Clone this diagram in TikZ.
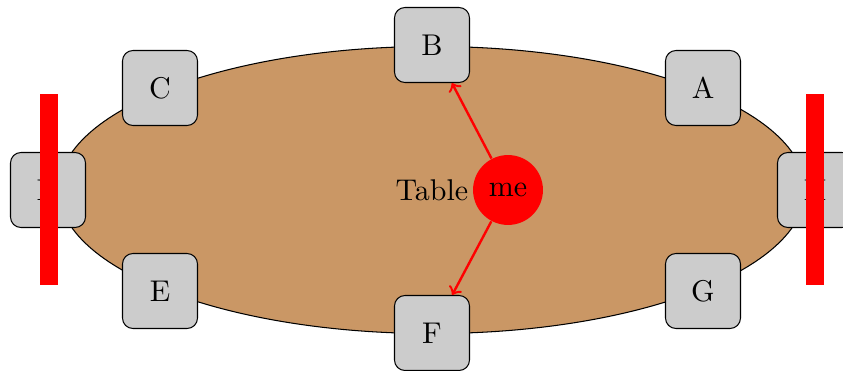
\documentclass[tikz,border=0pt]{standalone}
\usetikzlibrary{shapes.geometric}
\definecolor{tablebrown}{RGB}{202,151,101}
\definecolor{seatgray}{RGB}{204,204,204}
\begin{document}
\begin{tikzpicture}[x=0.3333pt,y=-0.3333pt,
  seat/.style={draw=black, fill=seatgray, rounded corners=3.5pt, minimum size=25pt, inner sep=0pt, line width=0.35pt},
  bar/.style={fill=red, draw=none},
  link/.style={red, line width=0.8pt, ->}]
\useasboundingbox (0,0) rectangle (843,371);
\node[ellipse, draw=black, fill=tablebrown, line width=0.35pt, minimum width=248.7pt, minimum height=95.7pt, inner sep=0pt] (table) at (432,190) {Table};
\node[seat] (A) at (703,88) {A};
\node[seat] (B) at (432,45) {B};
\node[seat] (C) at (160,88) {C};
\node[seat] (D) at (48,190) {D};
\node[seat] (E) at (160,291) {E};
\node[seat] (F) at (432,333) {F};
\node[seat] (G) at (703,291) {G};
\node[seat] (H) at (815,190) {H};
\node[circle, fill=red, minimum size=23.3pt, inner sep=0pt] (me) at (508,190) {me};
\draw[link] (me) -- (B);
\draw[link] (me) -- (F);
\fill[bar] (40,94) rectangle (58,285);
\fill[bar] (806,94) rectangle (824,285);
\end{tikzpicture}
\end{document}
